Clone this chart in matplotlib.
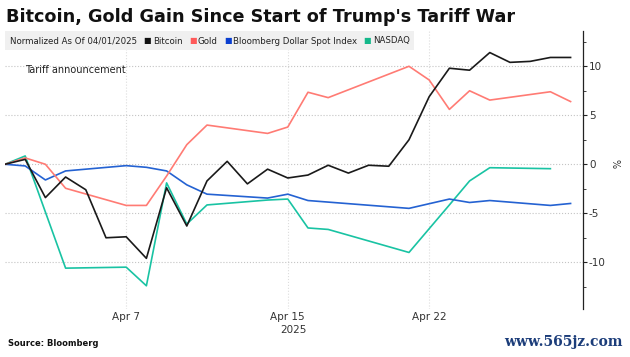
import pandas as pd
import matplotlib
matplotlib.use('Agg')
import matplotlib.pyplot as plt
from matplotlib.patches import Rectangle

# % change since 04/01/2025
btc_dates = pd.date_range("2025-04-01", "2025-04-29")
btc = [0, 0.5, -3.4, -1.3, -2.6, -7.5, -7.4, -9.6, -2.4, -6.3, -1.7, 0.3, -2.0, -0.5, -1.4,
       -1.1, -0.1, -0.9, -0.1, -0.2, 2.5, 6.9, 9.8, 9.6, 11.4, 10.4, 10.5, 10.9, 10.9]

gold_dates = pd.to_datetime(["2025-04-01", "2025-04-02", "2025-04-03", "2025-04-04", "2025-04-07",
                             "2025-04-08", "2025-04-09", "2025-04-10", "2025-04-11", "2025-04-14",
                             "2025-04-15", "2025-04-16", "2025-04-17", "2025-04-21", "2025-04-22",
                             "2025-04-23", "2025-04-24", "2025-04-25", "2025-04-28", "2025-04-29"])
gold = [0, 0.65, 0.0, -2.45, -4.2, -4.2, -1.2, 2.0, 4.0, 3.15, 3.8, 7.35, 6.8, 10.0, 8.6,
        5.6, 7.5, 6.55, 7.4, 6.4]

dxy_dates = pd.to_datetime(["2025-04-01", "2025-04-02", "2025-04-03", "2025-04-04", "2025-04-07",
                            "2025-04-08", "2025-04-09", "2025-04-10", "2025-04-11", "2025-04-14",
                            "2025-04-15", "2025-04-16", "2025-04-21", "2025-04-23", "2025-04-24",
                            "2025-04-25", "2025-04-28", "2025-04-29"])
dxy = [0, -0.17, -1.6, -0.68, -0.14, -0.31, -0.68, -2.1, -3.05, -3.45, -3.05, -3.7, -4.5,
       -3.55, -3.9, -3.7, -4.2, -4.0]

ndx_dates = pd.to_datetime(["2025-04-01", "2025-04-02", "2025-04-04", "2025-04-07", "2025-04-08",
                            "2025-04-09", "2025-04-10", "2025-04-11", "2025-04-14", "2025-04-15",
                            "2025-04-16", "2025-04-17", "2025-04-21", "2025-04-23", "2025-04-24",
                            "2025-04-25", "2025-04-28"])
ndx = [0, 0.85, -10.6, -10.5, -12.4, -1.9, -6.1, -4.15, -3.65, -3.55, -6.5, -6.65, -9.0,
       -4.15, -1.7, -0.35, -0.45]

xtick_dates = pd.to_datetime(["2025-04-07", "2025-04-15", "2025-04-22"])
xtick_labels = ["Apr 7", "Apr 15", "Apr 22"]
yticks = [-10, -5, 0, 5, 10]

W, H = 630, 357
plt.rcParams['font.family'] = 'DejaVu Sans'
plt.rcParams['axes.unicode_minus'] = False

fig = plt.figure(figsize=(W / 100, H / 100), dpi=100)
ax = fig.add_axes([5 / W, 1 - 309.3 / H, 577.7 / W, 278.3 / H])

ax.plot(ndx_dates, ndx, color="#19c3a3", lw=1.2)
ax.plot(dxy_dates, dxy, color="#2462d2", lw=1.2)
ax.plot(gold_dates, gold, color="#ff7b74", lw=1.2)
ax.plot(btc_dates, btc, color="#1a1a1a", lw=1.2)

start = pd.Timestamp("2025-04-01")
ax.set_xlim(start, start + pd.Timedelta(days=28.6))
ax.set_ylim(-14.8, 13.6)

for s in ["left", "top", "bottom"]:
    ax.spines[s].set_visible(False)
ax.spines["right"].set_color("#222222")
ax.spines["right"].set_linewidth(0.9)

ax.yaxis.tick_right()
ax.set_yticks(yticks)
ax.set_yticks([-12.5, -7.5, -2.5, 2.5, 7.5, 12.5], minor=True)
ax.tick_params(axis="y", which="major", length=3, width=0.8, pad=1.5, labelsize=7.5,
               labelcolor="#333333", color="#222222")
ax.tick_params(axis="y", which="minor", length=2, width=0.6, color="#222222")

ax.set_xticks(xtick_dates)
ax.set_xticklabels(xtick_labels)
ax.tick_params(axis="x", length=0, pad=2, labelsize=7.5, labelcolor="#333333")

ax.grid(axis="y", linestyle=":", color="#c4c4c4", lw=0.8)
ax.grid(axis="x", linestyle=":", color="#dddddd", lw=0.8)

# title, notes
fig.text(6 / W, 1 - 22 / H, "Bitcoin, Gold Gain Since Start of Trump's Tariff War",
         fontsize=12.7, fontweight="bold", va="baseline", color="#111111")
fig.text(25 / W, 1 - 70 / H, "Tariff announcement", fontsize=7, va="center", color="#222222")
fig.text(293 / W, 1 - 330 / H, "2025", fontsize=7.5, ha="center", va="center", color="#333333")
fig.text(8 / W, 1 - 344 / H, "Source: Bloomberg", fontsize=6, fontweight="bold", va="center",
         color="#111111")
fig.text(615 / W, 1 - 164 / H, "%", fontsize=7, rotation=270, ha="center", va="center",
         color="#333333")
fig.text(623 / W, 1 - 341.7 / H, "www.565jz.com", fontsize=10, fontweight="bold",
         family="DejaVu Serif", ha="right", va="center", color="#1c3d7a")

# legend strip
fig.patches.append(Rectangle((5 / W, 1 - 50 / H), 409 / W, 19 / H, transform=fig.transFigure,
                             facecolor="#f0f0f0", edgecolor="none", zorder=5))
fig.canvas.draw()
r = fig.canvas.get_renderer()
ly = 1 - 41 / H
items = [("Normalized As Of 04/01/2025", None), ("Bitcoin", "#111111"), ("Gold", "#ff5a5a"),
         ("Bloomberg Dollar Spot Index", "#0a3fd0"), ("NASDAQ", "#14b88a")]
x = 10
for label, col in items:
    if col is not None:
        sq = fig.text(x / W, ly, "■", fontsize=5.8, color=col, va="center", zorder=6)
        x = sq.get_window_extent(r).x1 + 1.5
    t = fig.text(x / W, ly, label, fontsize=6.2, color="#222222", va="center", zorder=6)
    x = t.get_window_extent(r).x1 + 6.5

fig.savefig("out.png", dpi=100)
plt.close()
